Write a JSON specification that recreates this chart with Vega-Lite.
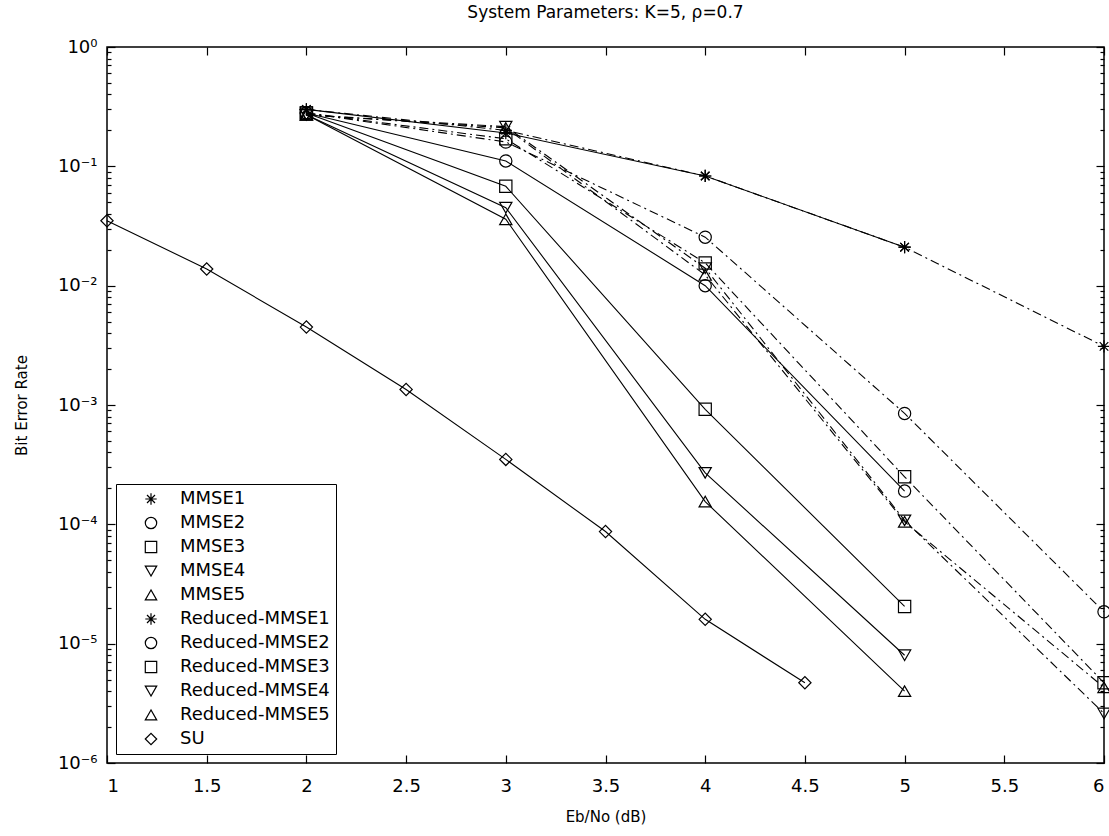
{
  "$schema": "https://vega.github.io/schema/vega-lite/v6.json",
  "width": 997,
  "height": 716,
  "autosize": "none",
  "padding": {"left": 107, "top": 47, "right": 5, "bottom": 73},
  "background": "white",
  "title": {"text": "System Parameters: K=5, ρ=0.7", "font": "DejaVu Sans", "fontSize": 17, "fontWeight": "normal", "color": "black", "anchor": "middle", "offset": 16},
  "config": {
    "view": {"stroke": "black", "strokeWidth": 1.5},
    "axis": {"domain": false, "grid": false, "tickColor": "black", "labelColor": "black", "titleColor": "black", "labelFont": "DejaVu Sans", "titleFont": "DejaVu Sans", "labelFontSize": 18, "titleFontSize": 15, "titleFontWeight": "normal", "labelOverlap": false, "tickWidth": 1.2}
  },
  "data": {"values": [
    {"series": "MMSE1", "ebno": 2, "ber": 0.30},
    {"series": "MMSE1", "ebno": 3, "ber": 0.19},
    {"series": "MMSE1", "ebno": 4, "ber": 0.083},
    {"series": "MMSE1", "ebno": 5, "ber": 0.021},
    {"series": "MMSE2", "ebno": 2, "ber": 0.28},
    {"series": "MMSE2", "ebno": 3, "ber": 0.111},
    {"series": "MMSE2", "ebno": 4, "ber": 0.010},
    {"series": "MMSE2", "ebno": 5, "ber": 0.00019},
    {"series": "MMSE3", "ebno": 2, "ber": 0.28},
    {"series": "MMSE3", "ebno": 3, "ber": 0.068},
    {"series": "MMSE3", "ebno": 4, "ber": 0.00092},
    {"series": "MMSE3", "ebno": 5, "ber": 0.0000205},
    {"series": "MMSE4", "ebno": 2, "ber": 0.27},
    {"series": "MMSE4", "ebno": 3, "ber": 0.045},
    {"series": "MMSE4", "ebno": 4, "ber": 0.00027},
    {"series": "MMSE4", "ebno": 5, "ber": 0.000008},
    {"series": "MMSE5", "ebno": 2, "ber": 0.27},
    {"series": "MMSE5", "ebno": 3, "ber": 0.036},
    {"series": "MMSE5", "ebno": 4, "ber": 0.000155},
    {"series": "MMSE5", "ebno": 5, "ber": 0.000004},
    {"series": "Reduced-MMSE1", "ebno": 2, "ber": 0.30},
    {"series": "Reduced-MMSE1", "ebno": 3, "ber": 0.20},
    {"series": "Reduced-MMSE1", "ebno": 4, "ber": 0.083},
    {"series": "Reduced-MMSE1", "ebno": 5, "ber": 0.021},
    {"series": "Reduced-MMSE1", "ebno": 6, "ber": 0.0031},
    {"series": "Reduced-MMSE2", "ebno": 2, "ber": 0.28},
    {"series": "Reduced-MMSE2", "ebno": 3, "ber": 0.16},
    {"series": "Reduced-MMSE2", "ebno": 4, "ber": 0.0255},
    {"series": "Reduced-MMSE2", "ebno": 5, "ber": 0.00085},
    {"series": "Reduced-MMSE2", "ebno": 6, "ber": 0.0000185},
    {"series": "Reduced-MMSE3", "ebno": 2, "ber": 0.28},
    {"series": "Reduced-MMSE3", "ebno": 3, "ber": 0.17},
    {"series": "Reduced-MMSE3", "ebno": 4, "ber": 0.0155},
    {"series": "Reduced-MMSE3", "ebno": 5, "ber": 0.00025},
    {"series": "Reduced-MMSE3", "ebno": 6, "ber": 0.0000047},
    {"series": "Reduced-MMSE4", "ebno": 2, "ber": 0.27},
    {"series": "Reduced-MMSE4", "ebno": 3, "ber": 0.215},
    {"series": "Reduced-MMSE4", "ebno": 4, "ber": 0.014},
    {"series": "Reduced-MMSE4", "ebno": 5, "ber": 0.000108},
    {"series": "Reduced-MMSE4", "ebno": 6, "ber": 0.0000026},
    {"series": "Reduced-MMSE5", "ebno": 2, "ber": 0.27},
    {"series": "Reduced-MMSE5", "ebno": 3, "ber": 0.21},
    {"series": "Reduced-MMSE5", "ebno": 4, "ber": 0.0123},
    {"series": "Reduced-MMSE5", "ebno": 5, "ber": 0.000105},
    {"series": "Reduced-MMSE5", "ebno": 6, "ber": 0.0000043},
    {"series": "SU", "ebno": 1, "ber": 0.035},
    {"series": "SU", "ebno": 1.5, "ber": 0.0138},
    {"series": "SU", "ebno": 2, "ber": 0.0045},
    {"series": "SU", "ebno": 2.5, "ber": 0.00135},
    {"series": "SU", "ebno": 3, "ber": 0.00035},
    {"series": "SU", "ebno": 3.5, "ber": 0.000087},
    {"series": "SU", "ebno": 4, "ber": 0.000016},
    {"series": "SU", "ebno": 4.5, "ber": 0.0000047}
  ]},
  "layer": [
    {
      "transform": [{"filter": "indexof(datum.series, 'Reduced') < 0"}],
      "mark": {"type": "line", "color": "black", "strokeWidth": 1.1},
      "encoding": {
        "x": {"field": "ebno", "type": "quantitative", "scale": {"domain": [1, 6], "nice": false, "zero": false},
          "axis": {"title": "Eb/No (dB)", "values": [1, 1.5, 2, 2.5, 3, 3.5, 4, 4.5, 5, 5.5, 6], "labelExpr": "'' + datum.value", "tickSize": -8, "labelPadding": 22, "titlePadding": 14}},
        "y": {"field": "ber", "type": "quantitative", "scale": {"type": "log", "domain": [0.000001, 1], "nice": false},
          "axis": {"title": "Bit Error Rate", "titlePadding": 28,
            "values": [0.000001,0.000002,0.000003,0.000004,0.000005,0.000006,0.000007,0.000008,0.000009,0.00001,0.00002,0.00003,0.00004,0.00005,0.00006,0.00007,0.00008,0.00009,0.0001,0.0002,0.0003,0.0004,0.0005,0.0006,0.0007,0.0008,0.0009,0.001,0.002,0.003,0.004,0.005,0.006,0.007,0.008,0.009,0.01,0.02,0.03,0.04,0.05,0.06,0.07,0.08,0.09,0.1,0.2,0.3,0.4,0.5,0.6,0.7,0.8,0.9,1],
            "labelExpr": "abs(log(datum.value)/LN10 - round(log(datum.value)/LN10)) < 0.000001 ? '10' + ['⁰','⁻¹','⁻²','⁻³','⁻⁴','⁻⁵','⁻⁶'][-round(log(datum.value)/LN10)] : ''",
            "tickSize": {"condition": {"test": "abs(log(datum.value)/LN10 - round(log(datum.value)/LN10)) < 0.000001", "value": -8}, "value": -4},
            "labelPadding": 18}},
        "detail": {"field": "series", "type": "nominal"}
      }
    },
    {
      "transform": [{"filter": "indexof(datum.series, 'Reduced') >= 0"}],
      "mark": {"type": "line", "color": "black", "strokeWidth": 1.1, "strokeDash": [9, 4, 2, 4]},
      "encoding": {
        "x": {"field": "ebno", "type": "quantitative", "scale": {"domain": [1, 6], "nice": false, "zero": false}, "axis": null},
        "y": {"field": "ber", "type": "quantitative", "scale": {"type": "log", "domain": [0.000001, 1], "nice": false}, "axis": null},
        "detail": {"field": "series", "type": "nominal"}
      }
    },
    {
      "mark": {"type": "point", "filled": false, "color": "black", "strokeWidth": 1.2, "size": 150, "opacity": 1},
      "encoding": {
        "x": {"field": "ebno", "type": "quantitative", "scale": {"domain": [1, 6], "nice": false, "zero": false},
          "axis": {"orient": "top", "title": null, "labels": false, "values": [1, 1.5, 2, 2.5, 3, 3.5, 4, 4.5, 5, 5.5, 6], "tickSize": -8}},
        "y": {"field": "ber", "type": "quantitative", "scale": {"type": "log", "domain": [0.000001, 1], "nice": false},
          "axis": {"orient": "right", "title": null, "labels": false,
            "values": [0.000001,0.000002,0.000003,0.000004,0.000005,0.000006,0.000007,0.000008,0.000009,0.00001,0.00002,0.00003,0.00004,0.00005,0.00006,0.00007,0.00008,0.00009,0.0001,0.0002,0.0003,0.0004,0.0005,0.0006,0.0007,0.0008,0.0009,0.001,0.002,0.003,0.004,0.005,0.006,0.007,0.008,0.009,0.01,0.02,0.03,0.04,0.05,0.06,0.07,0.08,0.09,0.1,0.2,0.3,0.4,0.5,0.6,0.7,0.8,0.9,1],
            "tickSize": {"condition": {"test": "abs(log(datum.value)/LN10 - round(log(datum.value)/LN10)) < 0.000001", "value": -8}, "value": -4}}},
        "shape": {"field": "series", "type": "nominal",
          "scale": {"domain": ["MMSE1","MMSE2","MMSE3","MMSE4","MMSE5","Reduced-MMSE1","Reduced-MMSE2","Reduced-MMSE3","Reduced-MMSE4","Reduced-MMSE5","SU"],
            "range": ["M-1,0L1,0M0,-1L0,1M-0.7,-0.7L0.7,0.7M-0.7,0.7L0.7,-0.7", "circle", "square", "triangle-down", "triangle-up", "M-1,0L1,0M0,-1L0,1M-0.7,-0.7L0.7,0.7M-0.7,0.7L0.7,-0.7", "circle", "square", "triangle-down", "triangle-up", "diamond"]},
          "legend": {"title": null, "orient": "bottom-left", "offset": 9, "strokeColor": "black", "fillColor": "white", "padding": 6, "cornerRadius": 0,
            "labelFont": "DejaVu Sans", "labelFontSize": 18, "labelColor": "black", "labelLimit": 400, "symbolSize": 130, "symbolStrokeWidth": 1.2, "symbolStrokeColor": "black", "symbolFillColor": "transparent", "rowPadding": 6, "symbolOffset": 20, "labelOffset": 20}}
      }
    }
  ],
  "resolve": {"axis": {"x": "independent", "y": "independent"}}
}
